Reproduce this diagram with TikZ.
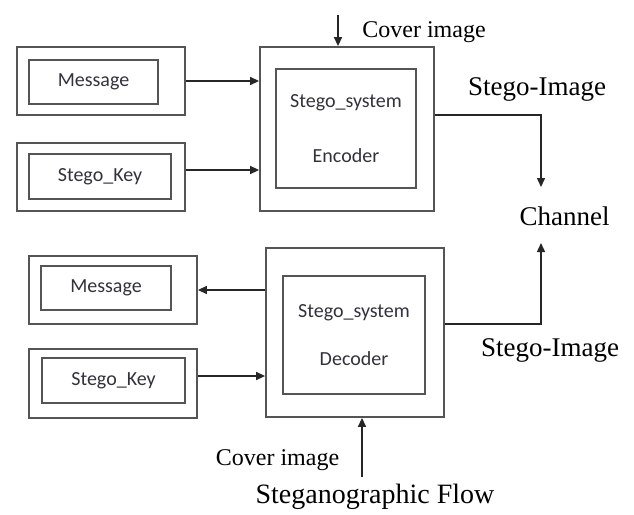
\documentclass[tikz,border=0pt]{standalone}
\usepackage{fontspec}
\setmainfont{Liberation Serif}
\newfontfamily\boxfont{Carlito}
\usetikzlibrary{arrows.meta,positioning,calc}
\definecolor{boxgray}{RGB}{85,85,85}
\definecolor{txtgray}{RGB}{50,50,60}

\begin{document}
\begin{tikzpicture}[x=1pt, y=-1pt,
            outerbox/.style={rectangle, draw=boxgray, line width=1.8pt, inner sep=0pt},
            innerbox/.style={rectangle, draw=boxgray, line width=1.8pt, inner sep=0pt, text=txtgray, font=\boxfont\fontsize{20}{24}\selectfont, align=center},
            lbl/.style={inner sep=0pt, font=\fontsize{27}{30}\selectfont},
            arr/.style={draw=black!85, line width=1.4pt, -{Triangle[length=9pt,width=8pt]}}]
            \useasboundingbox (0,0) rectangle (634,514);
            % sender side
            \node [outerbox, minimum width=168pt, minimum height=68pt] (msg1) at (101,81) {};
            \node [innerbox, minimum width=129pt, minimum height=44pt] (msg1in) at (93.5,82) {Message};
            \node [outerbox, minimum width=168pt, minimum height=68pt] (key1) at (101,177) {};
            \node [innerbox, minimum width=142pt, minimum height=45pt] (key1in) at (100,176.5) {Stego\_Key};
            \node [outerbox, minimum width=174pt, minimum height=164pt] (enc) at (347,129) {};
            \node [innerbox, minimum width=140pt, minimum height=119pt] (encin) at (346,128.5) {Stego\_system\\[31pt]Encoder};
            % receiver side
            \node [outerbox, minimum width=168pt, minimum height=68pt] (msg2) at (113,290) {};
            \node [innerbox, minimum width=130pt, minimum height=44pt] (msg2in) at (106,288) {Message};
            \node [outerbox, minimum width=168pt, minimum height=69pt] (key2) at (113,383.5) {};
            \node [innerbox, minimum width=143pt, minimum height=45pt] (key2in) at (113.5,380.5) {Stego\_Key};
            \node [outerbox, minimum width=178pt, minimum height=169pt] (dec) at (355,332.5) {};
            \node [innerbox, minimum width=142pt, minimum height=118pt] (decin) at (354,335) {Stego\_system\\[24pt]Decoder};
            % labels
            \node [lbl] (chan) at (564.5,216) {Channel};
            \node [lbl] (simg1) at (537,89) {Stego-Image};
            \node [lbl] (simg2) at (550,350) {Stego-Image};
            \node [lbl, font=\fontsize{24}{28}\selectfont] (cov1) at (424,32) {Cover image};
            \node [lbl, font=\fontsize{24}{28}\selectfont] (cov2) at (277.5,460) {Cover image};
            \node [lbl, font=\fontsize{28}{32}\selectfont] (flow) at (375,497) {Steganographic Flow};
            \coordinate (chtop) at (541,187);
            \coordinate (chbot) at (541,243);
            \coordinate (covin) at (338,15);
            \coordinate (covout) at (362,477);

            \path [arr] (msg1.east) -- (msg1.east -| enc.west);
            \path [arr] ([yshift=7pt]key1.east) -- ([yshift=7pt]key1.east -| enc.west);
            \path [arr] (covin) -- (covin |- enc.north);
            \path [arr] ([yshift=14pt]enc.east) -| (chtop);
            \path [arr] ([yshift=8.5pt]dec.east) -| (chbot);
            \path [arr] (dec.west |- msg2.east) -- (msg2.east);
            \path [arr] ([yshift=7.5pt]key2.east) -- ([yshift=7.5pt]key2.east -| dec.west);
            \path [arr] (covout) -- (covout |- dec.south);
        \end{tikzpicture}
\end{document}
